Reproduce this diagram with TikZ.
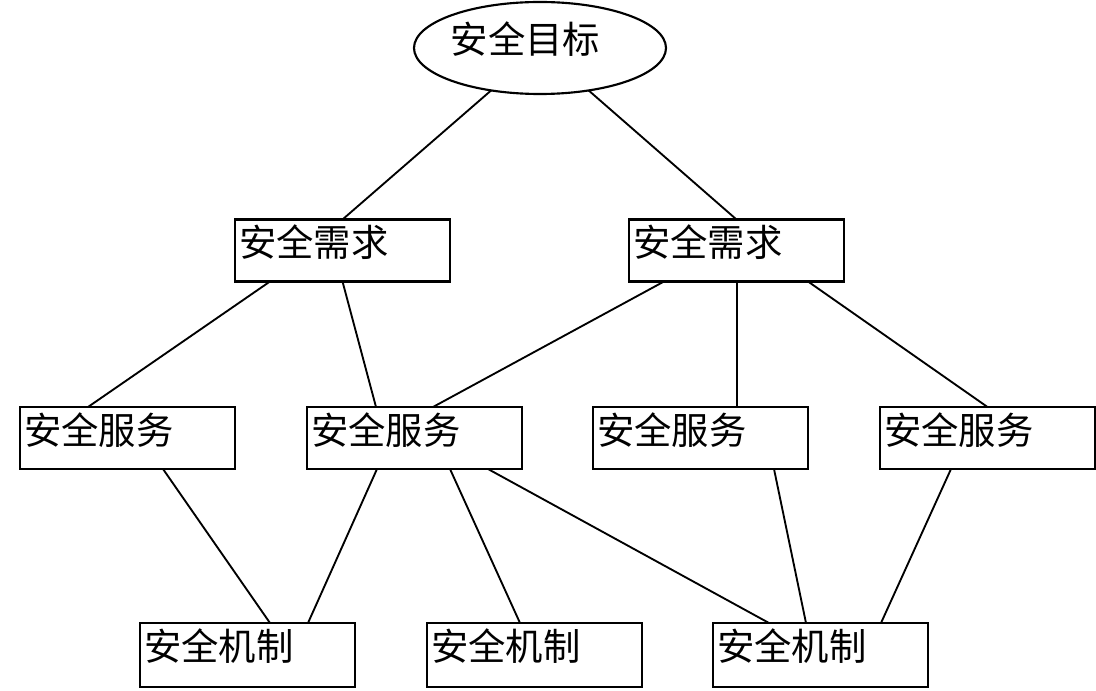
\documentclass[tikz,border=0pt]{standalone}
\usepackage{fontspec}
\newfontfamily\cjk{Noto Sans CJK SC}
\usetikzlibrary{shapes.geometric,calc}
\begin{document}
\begin{tikzpicture}[x=0.75pt,y=-0.75pt,
  box/.style={draw,line width=1.9pt,rectangle,minimum width=161.25pt,minimum height=46.5pt,inner sep=0pt,outer sep=0pt},
  goalbox/.style={draw,line width=1.6pt,ellipse,minimum width=189pt,minimum height=69pt,inner sep=0pt,outer sep=0pt},
  lbl/.style={anchor=north west,inner sep=0pt,xshift=3pt,yshift=-4pt,font=\cjk\fontsize{28}{30}\selectfont},
  conn/.style={line width=1.4pt}]
\fill[white] (0,0) rectangle (1096,691);
\useasboundingbox (0,0) rectangle (1096,691);
\node[goalbox,label={[anchor=center,inner sep=0pt,xshift=-11pt,yshift=7pt,font=\cjk\fontsize{28}{30}\selectfont]center:安全目标}] (goal) at (540,48) {};
\node[box,label={[lbl]north west:安全需求}] (r1) at (342.5,250.5) {};
\node[box,label={[lbl]north west:安全需求}] (r2) at (736.5,250.5) {};
\node[box,label={[lbl]north west:安全服务}] (s1) at (127.5,438) {};
\node[box,label={[lbl]north west:安全服务}] (s2) at (414.5,438) {};
\node[box,label={[lbl]north west:安全服务}] (s3) at (700.5,438) {};
\node[box,label={[lbl]north west:安全服务}] (s4) at (987.5,438) {};
\node[box,minimum height=48pt,label={[lbl]north west:安全机制}] (m1) at (247.5,655) {};
\node[box,minimum height=48pt,label={[lbl]north west:安全机制}] (m2) at (534.5,655) {};
\node[box,minimum height=48pt,label={[lbl]north west:安全机制}] (m3) at (820.5,655) {};
\draw[conn] (goal) -- (r1.north);
\draw[conn] (goal) -- (r2.north);
\draw[conn] ($(r1.south west)+(35,0)$) -- ($(s1.north west)+(68,0)$);
\draw[conn] (r1.south) -- ($(s2.north west)+(69,0)$);
\draw[conn] ($(r2.south west)+(35,0)$) -- ($(s2.north west)+(126,0)$);
\draw[conn] ($(r2.south west)+(108,0)$) -- ($(s3.north west)+(144,0)$);
\draw[conn] ($(r2.south west)+(179,0)$) -- (s4.north);
\draw[conn] ($(s1.south west)+(143,0)$) -- ($(m1.north west)+(130,0)$);
\draw[conn] ($(s2.south west)+(70,0)$) -- ($(m1.north west)+(168,0)$);
\draw[conn] ($(s2.south west)+(143,0)$) -- ($(m2.north west)+(93,0)$);
\draw[conn] ($(s2.south west)+(181,0)$) -- ($(m3.north west)+(56,0)$);
\draw[conn] ($(s3.south west)+(181,0)$) -- ($(m3.north west)+(93,0)$);
\draw[conn] ($(s4.south west)+(71,0)$) -- ($(m3.north west)+(168,0)$);
\end{tikzpicture}
\end{document}
